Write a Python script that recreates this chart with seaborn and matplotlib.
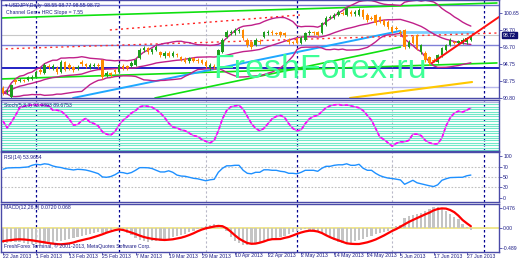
import numpy as np
import pandas as pd
import matplotlib
matplotlib.use("Agg")
import matplotlib.pyplot as plt
import seaborn as sns

# ---------------- data ----------------
opens = [91.96, 91.49, 90.91, 92.88, 92.77, 92.88, 92.88, 93.00, 93.23, 94.04,
         93.70, 94.51, 94.28, 94.28, 93.81, 94.97, 94.62, 94.39, 94.28, 94.97,
         94.74, 94.39, 94.51, 94.62, 95.20, 93.46, 93.70, 94.04, 93.81, 94.51,
         94.51, 94.51, 94.62, 95.43, 96.36, 96.59, 96.13, 96.36, 96.13, 95.67,
         96.01, 95.67, 95.90, 95.55, 95.32, 95.09, 95.43, 95.20, 95.20, 94.97,
         94.28, 94.51, 94.39, 96.13, 97.87, 98.33, 98.33, 98.56, 98.68, 97.52,
         97.29, 96.94, 97.40, 97.87, 98.33, 98.45, 98.33, 98.45, 98.33, 97.52,
         97.29, 97.75, 97.17, 97.52, 98.33, 98.45, 98.45, 98.33, 99.26, 100.07,
         100.07, 100.42, 100.65, 100.42, 100.77, 100.53, 100.42, 101.00, 100.42, 100.07,
         100.42, 100.19, 99.84, 99.61, 99.03, 98.91, 98.45, 98.68, 96.71, 97.87,
         98.10, 96.13, 96.01, 95.55, 95.20, 94.97, 95.78, 96.36, 96.94, 97.29,
         97.23, 97.17, 97.29, 97.52]
closes = [91.38, 91.61, 92.30, 92.65, 92.88, 92.77, 93.23, 93.23, 93.81, 93.81,
          94.62, 94.39, 94.51, 93.81, 94.97, 94.04, 94.28, 94.04, 94.39, 94.74,
          94.51, 94.62, 94.62, 94.51, 93.23, 93.70, 93.46, 93.81, 94.62, 94.28,
          94.28, 94.86, 95.20, 96.36, 96.59, 96.13, 96.48, 96.71, 95.78, 96.01,
          95.67, 96.01, 95.78, 95.20, 94.97, 95.43, 95.09, 95.09, 94.86, 94.51,
          94.62, 94.39, 96.36, 97.52, 98.45, 98.45, 98.68, 98.68, 97.75, 96.94,
          96.71, 97.52, 97.29, 98.45, 98.45, 98.33, 98.27, 98.10, 98.10, 97.29,
          97.23, 97.17, 97.75, 98.33, 98.45, 98.33, 98.10, 99.49, 100.07, 100.19,
          100.42, 100.77, 100.59, 101.23, 100.53, 100.77, 101.00, 100.19, 99.84, 100.01,
          99.49, 99.61, 99.26, 99.03, 98.45, 98.85, 98.33, 96.71, 97.29, 97.17,
          96.59, 96.94, 95.20, 94.86, 95.14, 95.78, 96.59, 96.94, 97.52, 97.23,
          97.35, 97.52, 97.75, 97.87]
highs = [92.20, 91.85, 92.45, 93.05, 93.10, 93.05, 93.40, 93.45, 94.00, 94.25,
         94.80, 94.70, 94.75, 94.45, 95.15, 95.10, 94.80, 94.55, 94.60, 95.15,
         94.90, 94.80, 94.85, 94.80, 95.35, 93.90, 93.85, 94.20, 94.80, 94.70,
         94.65, 95.05, 95.40, 96.55, 96.80, 96.75, 96.65, 96.90, 96.30, 96.20,
         96.20, 96.25, 96.05, 95.70, 95.50, 95.60, 95.60, 95.40, 95.35, 95.15,
         94.80, 94.70, 96.50, 97.70, 98.65, 98.70, 98.90, 98.95, 98.85, 97.70,
         97.45, 97.70, 97.60, 98.60, 98.70, 98.65, 98.50, 98.60, 98.50, 97.70,
         97.45, 97.90, 97.95, 98.50, 98.65, 98.60, 98.60, 99.65, 100.25, 100.40,
         100.60, 100.95, 100.85, 101.40, 100.95, 100.95, 101.20, 101.15, 100.60, 100.25,
         100.55, 100.35, 100.00, 99.80, 99.20, 99.10, 98.65, 98.85, 97.50, 98.05,
         98.25, 97.10, 96.20, 95.70, 95.40, 95.95, 96.75, 97.10, 97.70, 97.45,
         97.55, 97.70, 97.90, 98.05]
lows = [91.10, 91.25, 90.75, 92.45, 92.60, 92.60, 92.75, 92.85, 93.10, 93.60,
        93.55, 94.20, 94.10, 93.60, 93.70, 93.90, 94.10, 93.85, 94.10, 94.55,
        94.30, 94.20, 94.35, 94.30, 93.05, 93.20, 93.25, 93.60, 93.65, 94.10,
        94.05, 94.35, 94.45, 95.30, 96.15, 95.95, 95.95, 96.20, 95.60, 95.45,
        95.50, 95.50, 95.60, 95.05, 94.80, 94.90, 94.95, 94.90, 94.70, 94.30,
        94.10, 94.20, 94.25, 96.00, 97.70, 98.10, 98.15, 98.35, 97.55, 96.75,
        96.50, 96.80, 97.10, 97.70, 98.15, 98.15, 98.05, 97.90, 97.90, 97.10,
        97.00, 97.00, 97.00, 97.35, 98.15, 98.15, 97.95, 98.20, 99.10, 99.90,
        99.90, 100.25, 100.40, 100.25, 100.35, 100.35, 100.25, 100.00, 99.65, 99.80,
        99.30, 99.45, 99.10, 98.85, 98.30, 98.65, 98.15, 96.50, 96.55, 97.00,
        96.40, 95.95, 95.00, 94.65, 94.95, 94.80, 95.60, 96.20, 96.80, 97.05,
        97.05, 97.00, 97.10, 97.40]

stoch = [60, 46, 58, 72, 88, 91, 93, 94, 94, 94, 93, 92, 83, 83, 81, 74, 64, 52, 53, 61,
         66, 58, 55, 50, 38, 33, 31, 38, 52, 62, 69, 77, 82, 90, 92, 91, 89, 84, 77, 68,
         56, 48, 46, 42, 40, 35, 30, 28, 22, 18, 15, 20, 40, 65, 82, 90, 92, 93, 85, 70,
         55, 45, 40, 45, 55, 65, 70, 72, 68, 55, 45, 40, 42, 55, 65, 70, 72, 80, 88, 92,
         94, 95, 93, 94, 92, 90, 88, 82, 72, 62, 45, 27, 22, 15, 8, 14, 17, 17, 20, 33,
         33, 30, 20, 15, 12.5, 13, 25, 50, 67, 77, 81, 79, 83, 87.5]

rsi = [66, 68.7, 69, 69.3, 69.3, 70, 70.7, 74, 76, 75, 77, 76, 72.7, 70.7, 69.5, 67.3, 66, 64.7,
       66, 65.5, 64.5, 62.5, 60, 57.3, 50.7, 50, 51.5, 55, 60, 59.3, 57.3, 59.5, 64, 69.3,
       69.3, 69, 67.5, 64, 60.7, 60.7, 63, 60, 54.5, 52.5, 52, 50, 48, 47, 45, 43, 45, 46,
       60, 68, 73, 73, 74, 74, 64, 58, 57, 60, 60, 65, 65, 64, 64, 62, 61, 58, 58, 57, 60,
       64, 64, 64, 62, 68, 72, 72, 74, 75, 75, 77, 74, 74, 76, 68, 64, 64, 58, 53.4, 50.5,
       48.5, 47.5, 46.2, 44.7, 36, 40, 44, 39, 37, 35, 33, 31.5, 35, 44, 47, 49.4, 49.7,
       50, 50, 53, 54.5]

macd_hist = [-0.30, -0.30, -0.28, -0.27, -0.28, -0.30, -0.31, -0.32, -0.32, -0.33,
             -0.32, -0.31, -0.30, -0.26, -0.25, -0.24, -0.22, -0.19, -0.17, -0.15,
             -0.14, -0.12, -0.10, -0.08, -0.09, -0.07, -0.04, 0.01, 0.02, -0.02,
             -0.10, -0.14, -0.19, -0.23, -0.25, -0.27, -0.26, -0.25, -0.26, -0.24,
             -0.21, -0.18, -0.16, -0.13, -0.11, -0.08, -0.05, -0.02, 0.03, 0.05,
             0.07, 0.08, 0.06, 0.04, -0.06, -0.18, -0.26, -0.30, -0.33, -0.34,
             -0.32, -0.31, -0.28, -0.26, -0.24, -0.23, -0.20, -0.18, -0.15, -0.12,
             -0.08, -0.06, -0.04, -0.02, -0.03, -0.05, -0.08, -0.12, -0.16, -0.20,
             -0.24, -0.27, -0.29, -0.30, -0.29, -0.26, -0.24, -0.21, -0.18, -0.15,
             -0.12, -0.09, -0.07, -0.05, 0.03, 0.05, 0.06, 0.20, 0.25, 0.26,
             0.29, 0.31, 0.34, 0.38, 0.43, 0.43, 0.40, 0.34, 0.29, 0.23,
             0.18, 0.09, 0.03, -0.04]
macd_signal = [-0.264, -0.25, -0.24, -0.23, -0.226, -0.23, -0.238, -0.246, -0.26, -0.274,
               -0.286, -0.302, -0.312, -0.322, -0.326, -0.318, -0.308, -0.29, -0.264, -0.244,
               -0.224, -0.206, -0.18, -0.154, -0.126, -0.094, -0.068, -0.044, -0.028, -0.04,
               -0.064, -0.092, -0.12, -0.152, -0.18, -0.2, -0.216, -0.226, -0.234, -0.24,
               -0.234, -0.226, -0.21, -0.194, -0.17, -0.14, -0.106, -0.066, -0.032, -0.006,
               0.012, 0.03, 0.042, 0.036, -0.006, -0.072, -0.146, -0.212, -0.26, -0.3,
               -0.316, -0.312, -0.294, -0.27, -0.24, -0.224, -0.222, -0.22, -0.198, -0.18,
               -0.15, -0.118, -0.09, -0.068, -0.054, -0.056, -0.07, -0.1, -0.144, -0.184,
               -0.218, -0.246, -0.276, -0.306, -0.316, -0.32, -0.32, -0.304, -0.286, -0.26,
               -0.23, -0.19, -0.15, -0.104, -0.058, -0.02, 0.026, 0.074, 0.12, 0.16,
               0.198, 0.236, 0.274, 0.308, 0.352, 0.38, 0.392, 0.388, 0.36, 0.316,
               0.246, 0.16, 0.096, 0.036]

date_labels = ["22 Jan 2013", "1 Feb 2013", "13 Feb 2013", "25 Feb 2013", "7 Mar 2013",
               "19 Mar 2013", "29 Mar 2013", "10 Apr 2013", "22 Apr 2013", "2 May 2013",
               "14 May 2013", "24 May 2013", "5 Jun 2013", "17 Jun 2013", "27 Jun 2013"]
date_bars = [0, 8, 16, 24, 32, 40, 48, 56, 64, 72, 80, 88, 96, 104, 112]

price_ticks = [100.65, 98.70, 96.70, 94.75, 92.75, 90.80]
price_tick_labels = ["100.65", "98.70", "96.70", "94.75", "92.75", "90.80"]
last_price = 98.10
last_price_label = "98.72"
rsi_ticks = [100, 70, 50, 30, 0]
macd_ticks = [0.476, 0.0, -0.489]
macd_tick_labels = ["0.476", "0.00", "-0.489"]

# trend / level lines: (bar, price) end points
green_top = ([-0.7, 119.3], [100.07, 101.81])
green_bottom = ([-0.7, 119.3], [93.00, 94.86])
green_mid = ([36.7, 96.0], [90.80, 96.71])
blue_rise = ([16.9, 95.9], [90.80, 98.57])
blue_flat = ([95.9, 113.5], [98.45, 98.45])
red_dot_upper = ([25.8, 71.7], [98.68, 100.42])
red_dot_lower = ([-0.7, 119.3], [96.48, 98.33])
red_trend = ([103.6, 119.8], [94.86, 100.19])
gold_line = ([83.8, 113.3], [90.80, 92.65])
hlines_main = {101.58: "#7070d0", 96.94: "#8080d8", 94.28: "#1010c0", 92.07: "#b8b8ec"}

sep_navy = [8, 28, 71, 116.2]
sep_gray = [49, 94]

# ---------------- styling ----------------
sns.set_theme(style="white")
plt.rcParams["font.family"] = ["Liberation Sans", "DejaVu Sans"]

W, H = 520, 260
fig = plt.figure(figsize=(W / 100, H / 100), dpi=100)
fig.patch.set_facecolor("white")
NAVY = "#1c1c86"
FRAME = "#4a4aa8"
FS = 3.7


def ax_px(x0, y0, x1, y1):
    a = fig.add_axes([x0 / W, 1 - y1 / H, (x1 - x0) / W, (y1 - y0) / H])
    a.set_facecolor("white")
    for s in a.spines.values():
        s.set_color(FRAME)
        s.set_linewidth(1.0)
    a.set_xlim(-0.5, 119.8)
    a.set_xticks([])
    a.grid(False)
    return a


ax_main = ax_px(1, 0, 499, 98)
ax_sto = ax_px(1, 100, 499, 151)
ax_rsi = ax_px(1, 152.3, 499, 202.3)
ax_macd = ax_px(1, 204, 499, 252)

ax_main.set_ylim(90.798, 102.157)
ax_sto.set_ylim(-2.1, 104.2)
ax_rsi.set_ylim(0, 100)
ax_macd.set_ylim(-0.48, 0.48)

n = len(closes)
bars = np.arange(n)
df = pd.DataFrame({"bar": bars, "open": opens, "close": closes, "high": highs,
                   "low": lows, "stoch": stoch, "rsi": rsi,
                   "hist": macd_hist, "signal": macd_signal})

# Bollinger bands from closes
mid = df["close"].rolling(20, min_periods=1).mean()
sd = df["close"].rolling(20, min_periods=1).std(ddof=0)
df["bb_mid"], df["bb_up"], df["bb_lo"] = mid, mid + 2 * sd, mid - 2 * sd

# ---- main panel ----
for y, c in hlines_main.items():
    ax_main.axhline(y, color=c, lw=1.0 if c != "#1010c0" else 1.3, zorder=1)
ax_main.axhline(last_price, color="#c8c8c8", lw=0.8, zorder=1)
for b in sep_navy:
    for a in (ax_main, ax_sto, ax_rsi, ax_macd):
        a.axvline(b, color="#000090", lw=0.9, ls=(0, (2, 2)), zorder=1)
for b in sep_gray:
    for a in (ax_main, ax_sto, ax_rsi, ax_macd):
        a.axvline(b, color="#b8b8c8", lw=0.8, ls=(0, (2, 2)), zorder=1)


def seg(a, pts, color, lw, ls="-", z=2):
    sns.lineplot(x=pts[0], y=pts[1], ax=a, color=color, lw=lw, ls=ls, legend=False, zorder=z)


seg(ax_main, green_top, "#10e010", 1.2)
seg(ax_main, green_bottom, "#10e010", 1.2)
seg(ax_main, green_mid, "#10e010", 1.2)
seg(ax_main, blue_rise, "#1ea8ff", 1.4)
seg(ax_main, blue_flat, "#7ccfff", 2.0)
seg(ax_main, red_dot_upper, "#ff2020", 1.0, ls=(0, (1.5, 2.5)))
seg(ax_main, red_dot_lower, "#ff3030", 1.0, ls=(0, (1.5, 2.5)))
seg(ax_main, gold_line, "#ffc800", 1.5)
seg(ax_main, red_trend, "#ff1010", 1.4, z=4)

for col in ("bb_up", "bb_mid", "bb_lo"):
    sns.lineplot(data=df, x="bar", y=col, ax=ax_main, color="#c0208a", lw=1.0,
                 legend=False, zorder=2)

up = df["close"] >= df["open"]
colors = np.where(up, "#1f9e1f", "#ff8a00")
ax_main.vlines(df["bar"], df["low"], df["high"], colors=colors, lw=0.7, zorder=3)
body_lo = np.minimum(df["open"], df["close"])
body_h = np.maximum(np.abs(df["close"] - df["open"]), 0.04)
ax_main.bar(df["bar"], body_h, bottom=body_lo, width=0.6, color=colors, lw=0, zorder=3)

ax_main.set_yticks(price_ticks)
ax_main.set_yticklabels(price_tick_labels)
ax_main.annotate(last_price_label, xy=(1.0, last_price), xycoords=("axes fraction", "data"),
                 xytext=(3, 0), textcoords="offset points", fontsize=FS, color="white",
                 va="center", ha="left",
                 bbox=dict(boxstyle="square,pad=0.15", fc="#101070", ec="#101070"),
                 annotation_clip=False, zorder=10)

# ---- stochastic ----
for lv in np.arange(0, 101, 5):
    ax_sto.axhline(lv, color="#b0b0e0" if lv == 100 else "#70e8c8", lw=0.8, zorder=1)
sns.lineplot(data=df, x="bar", y="stoch", ax=ax_sto, color="#d070e0", lw=1.0, legend=False, zorder=3)
sns.lineplot(data=df, x="bar", y="stoch", ax=ax_sto, color="#ff00ff", lw=1.2,
             ls=(0, (2, 1.5)), legend=False, zorder=4)
ax_sto.set_yticks([])

# ---- RSI ----
for lv in (70, 50, 30):
    ax_rsi.axhline(lv, color="#c0c0c0", lw=0.8, ls=(0, (1.5, 1.5)), zorder=1)
sns.lineplot(data=df, x="bar", y="rsi", ax=ax_rsi, color="#1e90ff", lw=1.0, legend=False, zorder=3)
ax_rsi.set_yticks([92.5, 70, 50, 30, 8])
ax_rsi.set_yticklabels([str(t) for t in rsi_ticks])

# ---- MACD ----
ax_macd.axhline(0, color="#ece27a", lw=1.2, zorder=1)
ax_macd.bar(df["bar"], df["hist"], width=0.55, color="#c4c4c4", lw=0, zorder=2)
sns.lineplot(data=df, x="bar", y="signal", ax=ax_macd, color="#ff0000", lw=1.6, legend=False, zorder=3)
ax_macd.set_yticks([0.40, 0.0, -0.40])
ax_macd.set_yticklabels(macd_tick_labels)
ax_macd.set_xticks(date_bars)
ax_macd.set_xticklabels([])
ax_macd.tick_params(axis="x", length=2, width=0.6, color=FRAME, direction="out", bottom=True)

for a in (ax_main, ax_sto, ax_rsi, ax_macd):
    a.set_xlabel("")
    a.set_ylabel("")
    a.yaxis.tick_right()
    a.tick_params(axis="y", length=2, width=0.6, color=FRAME, labelsize=FS,
                  labelcolor=NAVY, pad=1, right=True, left=False)

# date labels
for b, t in zip(date_bars, date_labels):
    xpx = 1 + (b + 0.5) / 120.3 * 498
    fig.text(xpx / W, 1 - 256 / H, t, fontsize=FS, color=NAVY, ha="left", va="center")

# panel labels
def ftxt(x, y, s, **kw):
    fig.text(x / W, 1 - y / H, s, fontsize=kw.pop("fs", FS), color=kw.pop("color", NAVY),
             ha=kw.pop("ha", "left"), va=kw.pop("va", "center"), **kw)

ftxt(5, 5, "\u25be USDJPY,Daily  98.55 98.77 98.55 98.72")
ftxt(6, 12, "Channel Gen \u2666 HRC Slope = 7.55")
ftxt(4, 105, "Stoch(5,3,3) 93.9893 89.6753")
ftxt(4, 157, "RSI(14) 53.9654")
ftxt(4, 208, "MACD(12,26,9) 0.0720 0.068")
ftxt(4, 246, "FreshForex Terminal, \u00a9 2001-2013, MetaQuotes Software Corp.")
ftxt(213, 78, "FreshForex.ru", fs=24.5, color="#3dff96", va="baseline", zorder=20)

fig.savefig("out.png", dpi=100, facecolor="white")
